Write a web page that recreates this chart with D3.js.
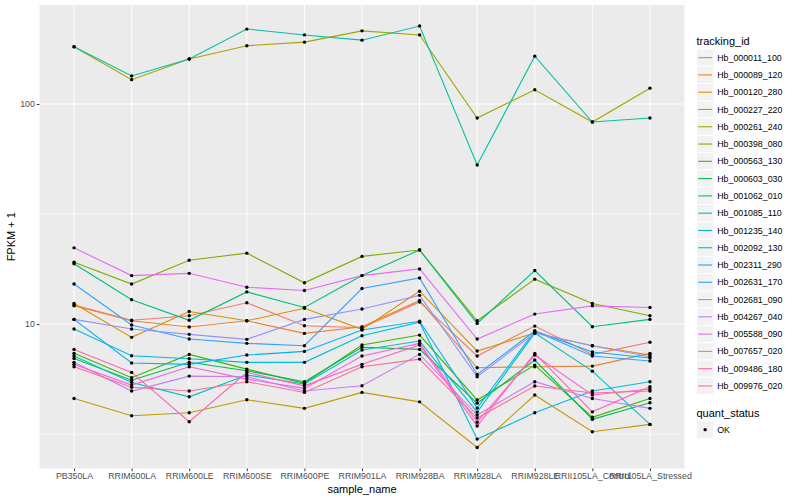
<!DOCTYPE html>
<html>
<head>
<meta charset="utf-8">
<script src="https://cdn.jsdelivr.net/npm/d3@7"></script>
<style>
  body { margin: 0; background: #fff; }
  svg { display: block; font-family: "Liberation Sans", Arial, Helvetica, sans-serif; }
</style>
</head>
<body>
<svg id="chart" width="800" height="500"></svg>
<script>
// x categories
var sample_names = ["PB350LA", "RRIM600LA", "RRIM600LE", "RRIM600SE", "RRIM600PE", "RRIM901LA",
  "RRIM928BA", "RRIM928LA", "RRIM928LE", "RRII105LA_Control", "RRII105LA_Stressed"];

// FPKM + 1, one array per tracking_id
var hb_000011_100 = [12.2, 10.4, 10.9, 12.5, 9.82, 9.62, 12.6, 7.16, 9.79, 7.28, 8.26];
var hb_000089_120 = [12.1, 10.35, 9.69, 10.35, 9.07, 9.72, 12.8, 6.33, 6.40, 6.44, 7.36];
var hb_000120_280 = [12.4, 8.70, 11.4, 10.35, 11.8, 9.46, 14.1, 7.54, 9.1, 7.97, 7.23];
var hb_000227_220 = [4.59, 3.83, 3.95, 4.53, 4.14, 4.89, 4.43, 2.75, 4.76, 3.24, 3.50];
var hb_000261_240 = [182, 129, 160, 184, 191, 215, 206, 86.4, 116, 82.8, 118];
var hb_000398_080 = [19.1, 15.2, 19.5, 21.0, 15.4, 20.3, 21.7, 10.35, 16.0, 12.4, 10.9];
var hb_000563_130 = [7.36, 5.70, 7.28, 6.24, 5.38, 8.03, 8.91, 4.52, 6.51, 3.77, 4.59];
var hb_000603_030 = [6.98, 5.56, 6.70, 6.13, 5.47, 7.84, 7.67, 4.37, 6.86, 3.69, 4.39];
var hb_001062_010 = [18.8, 12.9, 10.4, 14.0, 11.9, 16.6, 21.7, 10.07, 17.5, 9.72, 10.5];
var hb_001085_110 = [182, 134, 160, 219, 206, 195, 226, 52.8, 165, 82.8, 86.4];
var hb_001235_140 = [7.16, 5.43, 4.67, 5.87, 5.34, 7.62, 8.37, 3.98, 9.1, 6.11, 3.50];
var hb_002092_130 = [9.49, 7.18, 6.95, 6.70, 6.70, 8.85, 10.2, 3.0, 3.95, 4.96, 5.47];
var hb_002311_290 = [10.5, 6.65, 6.56, 7.23, 7.51, 9.39, 10.3, 4.15, 9.3, 7.46, 7.01];
var hb_002631_170 = [15.2, 9.9, 8.55, 8.17, 7.97, 14.5, 16.2, 5.90, 9.3, 7.16, 6.79];
var hb_002681_090 = [10.5, 9.49, 8.98, 8.52, 10.5, 11.7, 13.5, 5.76, 9.1, 7.97, 7.10];
var hb_004267_040 = [6.70, 4.96, 5.80, 5.76, 4.96, 5.24, 7.28, 3.86, 5.47, 4.59, 4.14];
var hb_005588_090 = [22.2, 16.6, 17.0, 14.7, 14.2, 16.6, 17.8, 8.55, 11.1, 12.1, 11.9];
var hb_007657_020 = [6.56, 5.28, 6.40, 5.62, 5.10, 7.16, 8.17, 3.58, 7.23, 4.76, 5.07];
var hb_009486_180 = [7.67, 6.03, 3.60, 6.03, 5.24, 6.56, 8.03, 3.44, 7.36, 3.99, 5.19];
var hb_009976_020 = [6.40, 5.16, 4.96, 5.47, 4.89, 6.40, 6.93, 3.74, 5.23, 4.86, 4.96];

var tracking_ids = ["Hb_000011_100", "Hb_000089_120", "Hb_000120_280", "Hb_000227_220", "Hb_000261_240",
  "Hb_000398_080", "Hb_000563_130", "Hb_000603_030", "Hb_001062_010", "Hb_001085_110",
  "Hb_001235_140", "Hb_002092_130", "Hb_002311_290", "Hb_002631_170", "Hb_002681_090",
  "Hb_004267_040", "Hb_005588_090", "Hb_007657_020", "Hb_009486_180", "Hb_009976_020"];
var fpkm_values = [hb_000011_100, hb_000089_120, hb_000120_280, hb_000227_220, hb_000261_240,
  hb_000398_080, hb_000563_130, hb_000603_030, hb_001062_010, hb_001085_110,
  hb_001235_140, hb_002092_130, hb_002311_290, hb_002631_170, hb_002681_090,
  hb_004267_040, hb_005588_090, hb_007657_020, hb_009486_180, hb_009976_020];
var quant_status = ["OK"];
var y_breaks = [10, 100];

// ggplot hue palette, 20 levels
var palette = ["#F8766D", "#EA8331", "#D89000", "#C09B00", "#A3A500", "#7CAE00", "#39B600", "#00BB4E",
  "#00BF7D", "#00C1A3", "#00BFC4", "#00BAE0", "#00B0F6", "#35A2FF", "#9590FF", "#C77CFF",
  "#E76BF3", "#FA62DB", "#FF62BC", "#FF6C91"];

var svg = d3.select('#chart');
var panel = {left: 39.5, right: 684.5, top: 5, bottom: 468.5};

var series = tracking_ids.map(function(id, i) {
  return {id: id, values: fpkm_values[i]};
});

// x: discrete scale with ggplot's 0.6 expansion
var x = d3.scalePoint()
  .domain(sample_names)
  .range([panel.left, panel.right])
  .padding(0.6);

// y: log10 with 5% expansion in log space
var all = d3.merge(fpkm_values);
var lo = Math.log10(d3.min(all)), hi = Math.log10(d3.max(all));
var pad = (hi - lo) * 0.05;
var y = d3.scaleLog()
  .domain([Math.pow(10, lo - pad), Math.pow(10, hi + pad)])
  .range([panel.bottom, panel.top]);

//1, panel background + grid
svg.append('rect')
  .attr('x', panel.left).attr('y', panel.top)
  .attr('width', panel.right - panel.left)
  .attr('height', panel.bottom - panel.top)
  .attr('fill', '#EBEBEB');

var minor = [Math.sqrt(10), Math.sqrt(1000), Math.sqrt(100000)].filter(function(v) {
  return v > y.domain()[0] && v < y.domain()[1];
});
svg.append('g').selectAll('line')
  .data(minor).enter().append('line')
    .attr('x1', panel.left).attr('x2', panel.right)
    .attr('y1', function(d) { return y(d); })
    .attr('y2', function(d) { return y(d); })
    .attr('stroke', '#fff').attr('stroke-width', 0.5);

svg.append('g').selectAll('line')
  .data(y_breaks).enter().append('line')
    .attr('x1', panel.left).attr('x2', panel.right)
    .attr('y1', function(d) { return y(d); })
    .attr('y2', function(d) { return y(d); })
    .attr('stroke', '#fff').attr('stroke-width', 1);

svg.append('g').selectAll('line')
  .data(sample_names).enter().append('line')
    .attr('x1', function(d) { return x(d); })
    .attr('x2', function(d) { return x(d); })
    .attr('y1', panel.top).attr('y2', panel.bottom)
    .attr('stroke', '#fff').attr('stroke-width', 1);

//2, lines then points
var line = d3.line()
  .x(function(d, i) { return x(sample_names[i]); })
  .y(function(d) { return y(d); });

svg.append('g').selectAll('path')
  .data(series).enter().append('path')
    .attr('d', function(s) { return line(s.values); })
    .attr('fill', 'none')
    .attr('stroke', function(s, i) { return palette[i]; })
    .attr('stroke-width', 1.1);

var pts = [];
series.forEach(function(s) {
  s.values.forEach(function(v, i) { pts.push({name: sample_names[i], value: v}); });
});
svg.append('g').selectAll('circle')
  .data(pts).enter().append('circle')
    .attr('cx', function(d) { return x(d.name); })
    .attr('cy', function(d) { return y(d.value); })
    .attr('r', 1.7)
    .attr('fill', '#000');

//3, axes
var xAxis = svg.append('g')
  .attr('transform', 'translate(0,' + panel.bottom + ')')
  .call(d3.axisBottom(x).tickSize(2.7).tickPadding(2));
var yAxis = svg.append('g')
  .attr('transform', 'translate(' + panel.left + ',0)')
  .call(d3.axisLeft(y).tickValues(y_breaks).tickFormat(d3.format('d')).tickSize(2.7).tickPadding(2));
[xAxis, yAxis].forEach(function(a) {
  a.select('.domain').remove();
  a.selectAll('.tick line').attr('stroke', '#333333');
  a.selectAll('.tick text').attr('fill', '#4D4D4D').style('font-size', '8.8px')
    .style('font-family', '"Liberation Sans", Arial, sans-serif');
});

svg.append('text')
  .attr('x', (panel.left + panel.right) / 2)
  .attr('y', 493)
  .attr('text-anchor', 'middle')
  .style('font-size', '11px')
  .text('sample_name');
svg.append('text')
  .attr('transform', 'translate(15,' + ((panel.top + panel.bottom) / 2) + ') rotate(-90)')
  .attr('text-anchor', 'middle')
  .style('font-size', '11px')
  .text('FPKM + 1');

//4, legends
var lx = 696.5, key = 17.28;
var leg = svg.append('g');
leg.append('text')
  .attr('x', lx).attr('y', 44.5)
  .style('font-size', '11px')
  .text('tracking_id');
var items = leg.selectAll('g.item')
  .data(series).enter().append('g')
    .attr('class', 'item')
    .attr('transform', function(d, i) { return 'translate(' + lx + ',' + (49 + i * key) + ')'; });
items.append('rect')
  .attr('width', key).attr('height', key)
  .attr('fill', '#F2F2F2').attr('stroke', '#fff').attr('stroke-width', 1);
items.append('line')
  .attr('x1', 1.7).attr('x2', key - 1.7)
  .attr('y1', key / 2).attr('y2', key / 2)
  .attr('stroke', function(d, i) { return palette[i]; })
  .attr('stroke-width', 1.1);
items.append('text')
  .attr('x', key + 3.5).attr('y', key / 2 + 3.1)
  .style('font-size', '8.8px')
  .text(function(d) { return d.id; });

leg.append('text')
  .attr('x', lx).attr('y', 416.5)
  .style('font-size', '11px')
  .text('quant_status');
var ok = leg.selectAll('g.ok')
  .data(quant_status).enter().append('g')
    .attr('class', 'ok')
    .attr('transform', function(d, i) { return 'translate(' + lx + ',' + (421 + i * key) + ')'; });
ok.append('rect')
  .attr('width', key).attr('height', key)
  .attr('fill', '#F2F2F2').attr('stroke', '#fff').attr('stroke-width', 1);
ok.append('circle')
  .attr('cx', key / 2).attr('cy', key / 2).attr('r', 1.7).attr('fill', '#000');
ok.append('text')
  .attr('x', key + 3.5).attr('y', key / 2 + 3.1)
  .style('font-size', '8.8px')
  .text(function(d) { return d; });
</script>
</body>
</html>
